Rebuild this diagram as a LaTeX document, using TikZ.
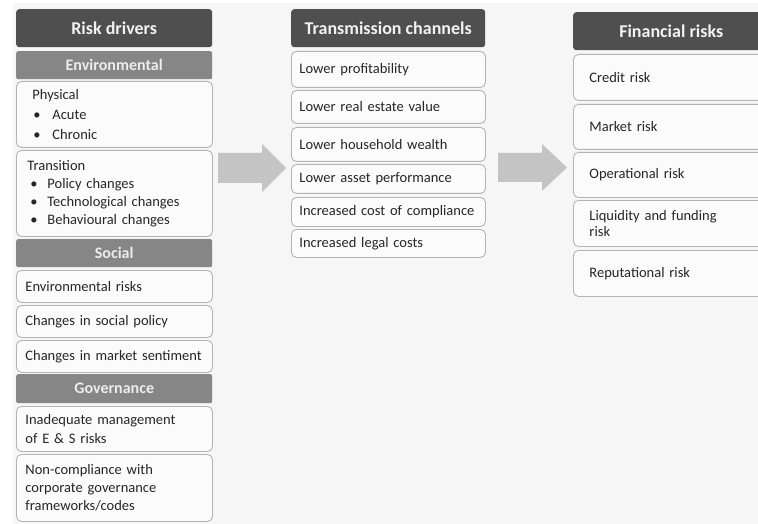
\documentclass[tikz,border=0pt]{standalone}
\usepackage{fontspec}
\setmainfont{Carlito}
\usetikzlibrary{calc}
\definecolor{bgc}{HTML}{F6F6F6}
\definecolor{hdrc}{HTML}{4F4F4F}
\definecolor{subc}{HTML}{868686}
\definecolor{subt}{HTML}{EDEDED}
\definecolor{boxd}{HTML}{B4B4B4}
\definecolor{boxf}{HTML}{FBFBFB}
\definecolor{txtc}{HTML}{262626}
\definecolor{arrc}{HTML}{C4C4C4}
\tikzset{
  hdr/.style={fill=hdrc, rounded corners=3pt, text=white!95!black, anchor=north west,
    font=\fontsize{18}{20}\selectfont\bfseries, inner sep=0pt},
  subhdr/.style={fill=subc, rounded corners=2pt, text=subt, anchor=north west,
    font=\fontsize{16}{18}\selectfont\bfseries, inner sep=0pt, minimum width=196pt},
  box/.style={draw=boxd, line width=0.9pt, fill=boxf, rounded corners=5pt, anchor=north west,
    align=left, text=txtc, font=\fontsize{14.5}{18}\selectfont, inner ysep=2pt},
  lbox/.style={box, minimum width=196pt, inner xsep=9pt, text width=178pt},
  mbox/.style={box, minimum width=194pt, inner xsep=8pt, text width=178pt},
  rbox/.style={box, minimum width=196pt, inner xsep=16pt, text width=164pt},
  bigarrow/.style={fill=arrc}
}
\newcommand{\bul}[1]{\makebox[#1][l]{\textbullet}}
\begin{document}
\begin{tikzpicture}[x=1pt,y=-1pt]
\useasboundingbox (0,0) rectangle (758,524);
\begin{scope}
\clip (0,0) rectangle (758,524);
\fill[white] (0,0) rectangle (758,524);
\fill[bgc] (13,3) rectangle (758,524);

% Left column
\node[hdr, minimum width=196pt, minimum height=38pt] (rd) at (16,9) {Risk drivers};
\node[subhdr, minimum height=28pt] (env) at (16,51) {Environmental};
\node[lbox, minimum height=66pt, inner xsep=16pt, text width=164pt,
  font=\fontsize{14.5}{20}\selectfont] (phys) at (16,81)
  {Physical\\\hspace*{1pt}\bul{19pt}Acute\\\hspace*{1pt}\bul{19pt}Chronic};
\node[lbox, minimum height=86pt, inner xsep=11pt, text width=174pt] (trans) at (16,150)
  {Transition\\\hspace*{3pt}\bul{17pt}Policy changes\\\hspace*{3pt}\bul{17pt}Technological changes\\\hspace*{3pt}\bul{17pt}Behavioural changes};
\node[subhdr, minimum height=28pt] (soc) at (16,239) {Social};
\node[lbox, minimum height=32pt] (envr) at (16,270) {Environmental risks};
\node[lbox, minimum height=32pt] (socpol) at (16,305) {Changes in social policy};
\node[lbox, minimum height=32pt] (mkts) at (16,340) {Changes in market sentiment};
\node[subhdr, minimum height=29pt] (gov) at (16,374) {Governance};
\node[lbox, minimum height=45pt, font=\fontsize{14.5}{19}\selectfont] (inadq) at (16,406) {Inadequate management\\of E \& S risks};
\node[lbox, minimum height=67pt] (noncomp) at (16,454) {Non-compliance with\\corporate governance\\frameworks/codes};

% Middle column
\node[hdr, minimum width=194pt, minimum height=38pt] (tc) at (291,9) {Transmission channels};
\node[mbox, minimum height=36pt] (m1) at (291,51) {Lower profitability};
\node[mbox, minimum height=33pt] (m2) at (291,90) {Lower real estate value};
\node[mbox, minimum height=34pt] (m3) at (291,127) {Lower household wealth};
\node[mbox, minimum height=29pt] (m4) at (291,164) {Lower asset performance};
\node[mbox, minimum height=29pt] (m5) at (291,197) {Increased cost of compliance};
\node[mbox, minimum height=28pt] (m6) at (291,229) {Increased legal costs};

% Right column
\node[hdr, minimum width=196pt, minimum height=38pt] (fr) at (573,12) {Financial risks};
\node[rbox, minimum height=46pt] (r1) at (573,54) {Credit risk};
\node[rbox, minimum height=45pt] (r2) at (573,104) {Market risk};
\node[rbox, minimum height=45pt] (r3) at (573,152) {Operational risk};
\node[rbox, minimum height=46pt, font=\fontsize{14.5}{16}\selectfont] (r4) at (573,200) {Liquidity and funding\\risk};
\node[rbox, minimum height=46pt] (r5) at (573,250) {Reputational risk};

% Block arrows
\coordinate (a1s) at (218,168);
\coordinate (a1t) at (286,168);
\fill[bigarrow] ($(a1s)+(0,-15)$) -- (262,153) -- (262,144) -- (a1t) -- (262,192) -- (262,183) -- ($(a1s)+(0,15)$) -- cycle;
\coordinate (a2s) at (498,167.5);
\coordinate (a2t) at (567,167.5);
\fill[bigarrow] ($(a2s)+(0,-14.5)$) -- (542,153) -- (542,144) -- (a2t) -- (542,191) -- (542,182) -- ($(a2s)+(0,14.5)$) -- cycle;
\end{scope}
\end{tikzpicture}
\end{document}
